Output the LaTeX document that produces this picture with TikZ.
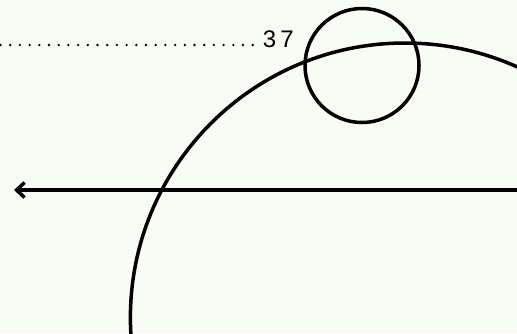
\documentclass[tikz,border=0pt]{standalone}
\usepackage{fontspec}
\setmainfont{Liberation Sans}
\usetikzlibrary{arrows.meta}
\definecolor{paper}{RGB}{248,252,242}

\begin{document}
\begin{tikzpicture}[x=0.5pt,y=-0.5pt,line width=1.75pt]
  \fill[paper] (0,0) rectangle (517,333);
  \useasboundingbox (0,0) rectangle (517,333);
  \clip (0,0) rectangle (517,333);
  % dotted leader and label
  \coordinate (lead) at (0.5,45);
  \node[anchor=west,inner sep=0pt,font=\fontsize{12}{12}\selectfont] (num) at (261,39) {3\hspace{2.2pt}7};
  \draw[line width=1.3pt,line cap=round,dash pattern=on 0pt off 4.85pt] (lead) -- (253,45);
  % large arc and small circle
  \draw (405,317.6) circle (274.6);
  \draw (362,65.5) circle (57);
  % axis arrow
  \coordinate (right) at (520,190);
  \coordinate (tip) at (14,190);
  \draw[-{Straight Barb[length=4pt,width=7.5pt]}] (right) -- (tip);
\end{tikzpicture}
\end{document}
